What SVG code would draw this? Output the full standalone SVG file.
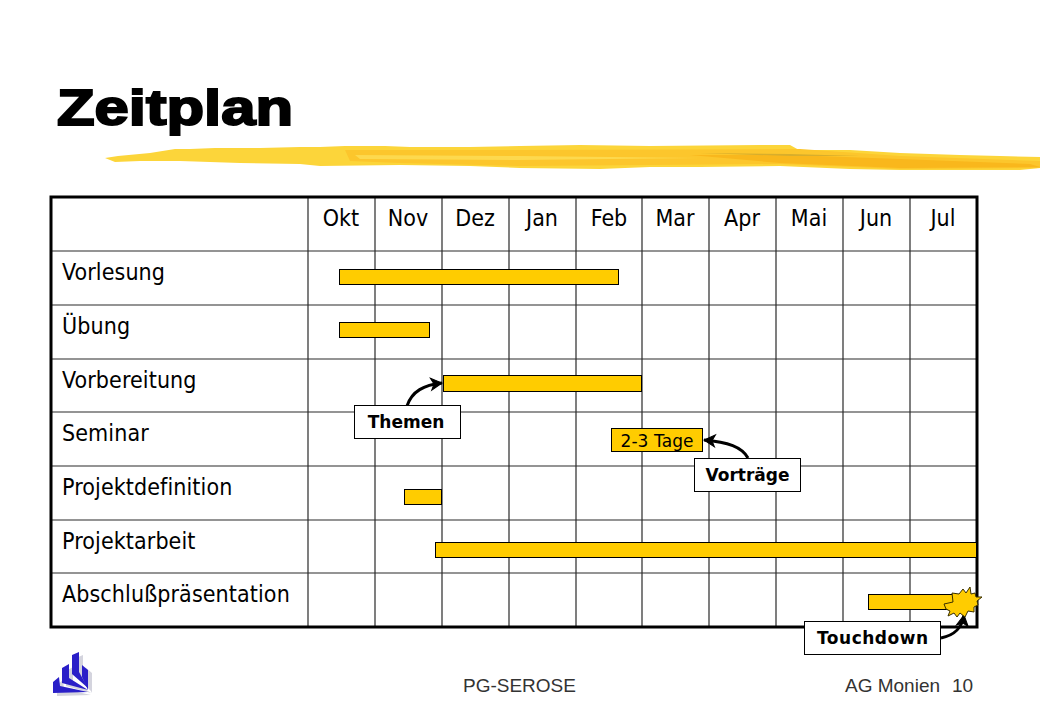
<svg xmlns="http://www.w3.org/2000/svg" width="1040" height="720" viewBox="0 0 1040 720">
<style>
text{font-family:"DejaVu Sans Condensed","DejaVu Sans",sans-serif;fill:#000}
.h{font-size:23px;text-anchor:middle}
.r{font-size:23px;letter-spacing:.1px}
.g{stroke:#2a2a2a;stroke-width:1.2;fill:none}
.o{stroke:#000;stroke-width:3;fill:none}
.bar{fill:#ffcc00;stroke:#000;stroke-width:1}
.box{fill:#fff;stroke:#000;stroke-width:1}
.lb{font-family:"DejaVu Sans",sans-serif;font-size:17px;font-weight:bold;text-anchor:middle}
.f{font-family:"Liberation Sans",Arial,sans-serif;font-size:19px;fill:#333}
.c{fill:none;stroke:#000;stroke-width:3;marker-end:url(#a)}
</style>
<defs>
<marker id="a" markerUnits="userSpaceOnUse" markerWidth="16" markerHeight="16" refX="13" refY="8" orient="auto"><path d="M2 2L13 8L2 14L5 8Z" fill="#000" stroke="#000" stroke-width="1"/></marker>
</defs>
<rect width="1040" height="720" fill="#fff"/>
<g id="brush">
<path d="M105 158L118 156L150 153L175 149L190 149L215 148L260 148L300 147L320 147L345 146L385 146L410 147L470 147L520 146L580 145L650 146L760 145L790 145L799 150L850 150L900 153L960 155L1000 156L1040 157V168L1020 170L950 170L900 170L850 169L780 166L700 167L650 167L600 169L520 168L470 166L400 165L320 166L300 164L240 163L180 161L140 161L115 162Z" fill="#fcd53a"/>
<path d="M345 150L520 150L800 149L900 156L1040 161V168L900 169L780 164L650 165L520 166L400 163L350 161Z" fill="#fcc62c"/>
<path d="M690 155L790 155L900 159L1030 164L1040 167L900 168L780 163Z" fill="#f9b71c"/>
<path d="M700 153L790 154L860 156L790 156Z" fill="#d8ae2c"/>
<path d="M355 155L520 156L700 158L520 160L360 159Z" fill="#fdd94e"/>
</g>
<text id="title" x="57" y="125" font-size="50" font-weight="bold" textLength="236" lengthAdjust="spacingAndGlyphs" style="font-family:'Liberation Sans',Arial,sans-serif;stroke:#000;stroke-width:2">Zeitplan</text>
<g id="grid">
<path class="g" d="M308 197V627M375 197V627M442 197V627M509 197V627M576 197V627M642 197V627M709 197V627M776 197V627M843 197V627M910 197V627"/>
<path class="g" d="M51 251H977M51 305H977M51 359H977M51 412H977M51 466H977M51 520H977M51 573H977"/>
<rect class="o" x="51" y="197" width="926" height="430"/>
</g>
<g id="headers">
<text class="h" x="341" y="226">Okt</text><text class="h" x="408" y="226">Nov</text><text class="h" x="475" y="226">Dez</text><text class="h" x="542" y="226">Jan</text><text class="h" x="609" y="226">Feb</text><text class="h" x="675" y="226">Mar</text><text class="h" x="742" y="226">Apr</text><text class="h" x="809" y="226">Mai</text><text class="h" x="876" y="226">Jun</text><text class="h" x="943" y="226">Jul</text>
</g>
<g id="rows">
<text class="r" x="62" y="280">Vorlesung</text>
<text class="r" x="62" y="334">Übung</text>
<text class="r" x="62" y="388">Vorbereitung</text>
<text class="r" x="62" y="441">Seminar</text>
<text class="r" x="62" y="495">Projektdefinition</text>
<text class="r" x="62" y="549">Projektarbeit</text>
<text class="r" x="62" y="602">Abschlußpräsentation</text>
</g>
<g id="bars">
<rect class="bar" x="339.500" y="269.500" width="279" height="15"/>
<rect class="bar" x="339.500" y="322.500" width="90" height="15"/>
<rect class="bar" x="443.500" y="375.500" width="198" height="16"/>
<rect class="bar" x="404.500" y="489.500" width="37" height="15"/>
<rect class="bar" x="435.500" y="542.500" width="541" height="15"/>
<rect class="bar" x="868.500" y="594.500" width="85" height="15"/>
</g>
<g id="connectors">
<path class="c" d="M407 406C412 391 424 385 442 383"/>
<path class="c" d="M748 458C742 447 728 442 704 440"/>
<path class="c" d="M941 638C955 635 962 628 964 615"/>
</g>
<g id="node-tage"><rect class="bar" x="611.500" y="428.500" width="91" height="23"/><text x="657" y="447" font-size="17" text-anchor="middle" style="font-family:'DejaVu Sans',sans-serif" textLength="73">2-3 Tage</text></g>
<g id="node-themen"><rect class="box" x="354.500" y="405.500" width="106" height="33"/><text class="lb" x="406" y="428">Themen</text></g>
<g id="node-vortraege"><rect class="box" x="694.500" y="458.500" width="106" height="33"/><text class="lb" x="747.500" y="481">Vorträge</text></g>
<g id="node-touchdown"><rect class="box" x="804.500" y="621.500" width="136" height="33"/><text class="lb" x="872.500" y="644" textLength="111">Touchdown</text></g>
<polygon id="burst" points="944,604 953,602 952,593 959,594 963,589 966,593 970,587 971,594 975,593 976,597 982,597 977,601 978,605 974,607 974,612 968,611 965,617 960,613 957,617 954,613 948,616 950,611 946,609" fill="#ffcc00" stroke="#3a3000" stroke-width="1"/>
<g id="logo">
<path d="M57 685L63 680L64 689L91 695L57 696Z M66 671L73 667L73 681L91 693L66 686Z M76 658L83 655L83 675L91 691L76 677Z M86 668L92 673L92 693L86 681Z" fill="#d4d4de"/>
<path d="M53 682L59 677L60 686L88 692L53 693Z" fill="#2a1fc8"/>
<path d="M62 668L69 664L69 678L88 690L62 683Z" fill="#2a1fc8"/>
<path d="M72 655L79 652L79 672L88 688L72 674Z" fill="#2a1fc8"/>
<path d="M82 665L88 670L88 690L82 677Z" fill="#2a1fc8"/>
</g>
<text class="f" x="463" y="692">PG-SEROSE</text>
<text class="f" x="845" y="692">AG Monien</text>
<text class="f" x="952" y="692">10</text>
</svg>
